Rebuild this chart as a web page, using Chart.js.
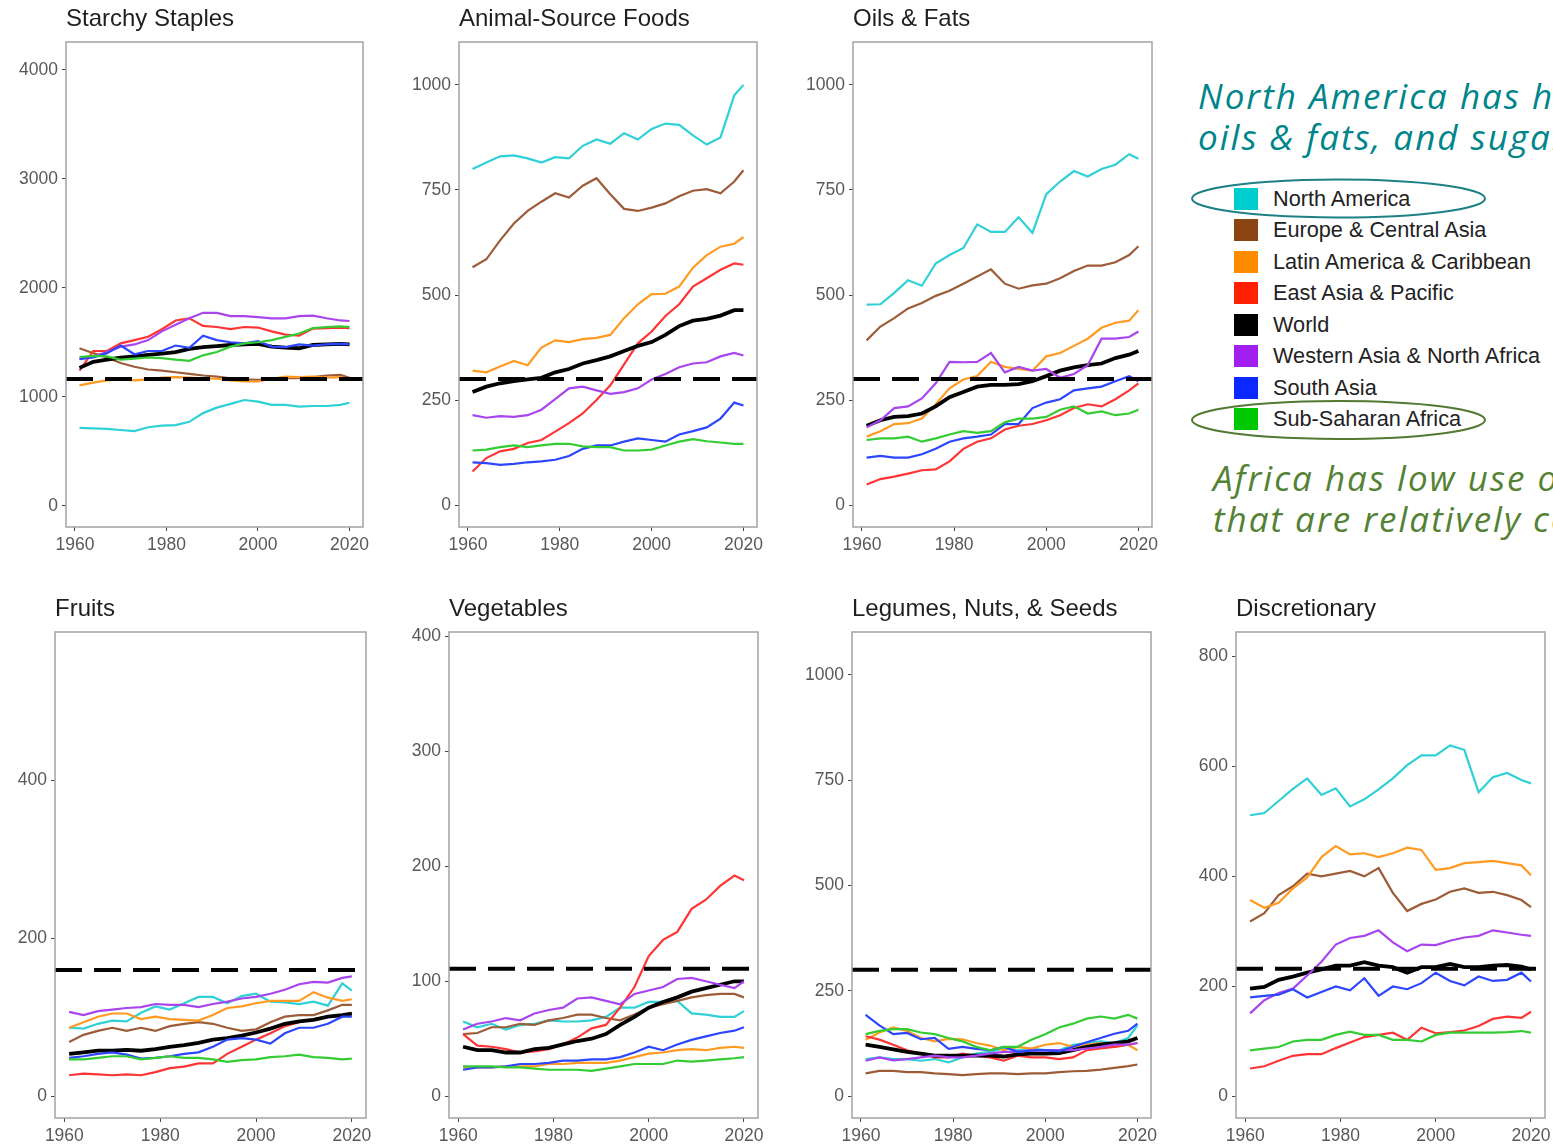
<!DOCTYPE html>
<html>
<head>
<meta charset="utf-8">
<title>Food group supply by region, 1961-2020</title>
<script src="https://cdn.jsdelivr.net/npm/chart.js@4/dist/chart.umd.min.js"></script>
<style>
  html, body { margin: 0; padding: 0; background: #fff; }
  body { width: 1553px; height: 1145px; position: relative; overflow: hidden;
         font-family: "Liberation Sans", Arial, sans-serif; }
  .panel { position: absolute; }
  .note { position: absolute; font-family: "Open Sans", sans-serif; font-style: italic;
          font-size: 35px; letter-spacing: 2px; line-height: 41px; white-space: nowrap; }
  .teal { color: #00858a; left: 1198px; top: 75px; }
  .green { color: #548235; left: 1213px; top: 457px; }
  .legend-row { position: absolute; left: 1234px; height: 22px; font-size: 21.7px;
                color: #222; white-space: nowrap; }
  .legend-row .sw { position: absolute; left: 0; top: 0; width: 24px; height: 22px; }
  .legend-row .lbl { position: absolute; left: 39px; top: -2px; line-height: 26px; }
  svg.marks { position: absolute; left: 0; top: 0; pointer-events: none; }
</style>
</head>
<body>

<div class="note teal">North America has high<br>oils &amp; fats, and sugar</div>
<div class="note green">Africa has low use of<br>that are relatively costly</div>
<div id="legend"></div>
<svg class="marks" width="1553" height="1145">
  <ellipse cx="1338.5" cy="198.5" rx="146.5" ry="19" fill="none" stroke="#1d8084" stroke-width="2"/>
  <ellipse cx="1338.5" cy="420" rx="146.5" ry="19" fill="none" stroke="#527a32" stroke-width="2"/>
</svg>

<script>
// ─── Data ─────────────────────────────────────────────────────
const years = [1961, 1964, 1967, 1970, 1973, 1976, 1979, 1982, 1985, 1988, 1991,
               1994, 1997, 2000, 2003, 2006, 2009, 2012, 2015, 2018, 2020];

const regions = ['North America', 'Europe & Central Asia', 'Latin America & Caribbean',
                 'East Asia & Pacific', 'World', 'Western Asia & North Africa',
                 'South Asia', 'Sub-Saharan Africa'];
const swatchColors = ['#00CDCD', '#8B4513', '#FF8C00', '#FF2000', '#000000', '#A020F0', '#0A28FF', '#00C800'];
const lineColors = ['#2fd0d6', '#9c5c38', '#ff9a22', '#ff3535', '#000000', '#a845ef', '#2c45ff', '#33cc33'];

const panelTitles = ['Starchy Staples', 'Animal-Source Foods', 'Oils & Fats', 'Fruits',
                     'Vegetables', 'Legumes, Nuts, & Seeds', 'Discretionary'];

// dashed reference level per panel
const refLevels = [1162, 300, 300, 160, 111, 300, 232];

const xTicks = [1960, 1980, 2000, 2020];
const yTicks = [
  [0, 1000, 2000, 3000, 4000],
  [0, 250, 500, 750, 1000],
  [0, 250, 500, 750, 1000],
  [0, 200, 400],
  [0, 100, 200, 300, 400],
  [0, 250, 500, 750, 1000],
  [0, 200, 400, 600, 800]
];

// rows follow the regions order
const starchy = [
  [715, 710, 705, 695, 685, 720, 735, 740, 770, 850, 900, 935, 970, 955, 925, 925, 910, 915, 915, 925, 945],
  [1445, 1400, 1360, 1310, 1275, 1250, 1240, 1225, 1210, 1195, 1185, 1170, 1160, 1155, 1165, 1170, 1170, 1180, 1195, 1200, 1175],
  [1105, 1130, 1150, 1160, 1150, 1160, 1175, 1180, 1175, 1170, 1165, 1150, 1140, 1140, 1165, 1185, 1180, 1185, 1175, 1180, 1165],
  [1240, 1420, 1420, 1490, 1520, 1550, 1620, 1700, 1720, 1650, 1640, 1620, 1640, 1635, 1600, 1570, 1560, 1625, 1630, 1635, 1630],
  [1265, 1320, 1340, 1360, 1370, 1385, 1395, 1410, 1440, 1455, 1465, 1475, 1480, 1485, 1460, 1450, 1445, 1475, 1480, 1485, 1480],
  [1350, 1370, 1410, 1460, 1480, 1520, 1600, 1660, 1720, 1770, 1770, 1740, 1740, 1730, 1720, 1720, 1740, 1745, 1720, 1700, 1695],
  [1345, 1360, 1400, 1470, 1390, 1420, 1420, 1470, 1450, 1560, 1520, 1500, 1490, 1510, 1460, 1455, 1480, 1470, 1480, 1485, 1480],
  [1365, 1375, 1370, 1340, 1350, 1360, 1355, 1340, 1330, 1380, 1410, 1460, 1490, 1500, 1520, 1550, 1580, 1630, 1640, 1645, 1640]
];

const animal = [
  [800, 815, 830, 832, 825, 815, 828, 825, 855, 870, 860, 885, 870, 895, 908, 905, 880, 858, 875, 975, 1000],
  [566, 585, 630, 670, 700, 722, 742, 732, 760, 778, 740, 705, 700, 708, 718, 735, 748, 752, 742, 770, 797],
  [320, 316, 330, 343, 333, 375, 392, 388, 395, 398, 405, 445, 478, 502, 503, 520, 565, 595, 615, 622, 638],
  [80, 112, 128, 134, 148, 155, 175, 195, 218, 250, 285, 335, 385, 413, 450, 478, 520, 540, 560, 575, 572],
  [269, 282, 290, 295, 299, 303, 316, 324, 337, 345, 354, 367, 379, 388, 405, 426, 439, 443, 451, 464, 464],
  [214, 208, 212, 210, 214, 227, 252, 278, 282, 273, 265, 269, 278, 299, 312, 328, 337, 340, 354, 362, 356],
  [102, 100, 96, 98, 102, 104, 108, 117, 134, 142, 142, 151, 159, 155, 151, 168, 176, 185, 206, 244, 237],
  [130, 132, 138, 142, 138, 142, 146, 146, 140, 138, 138, 130, 130, 132, 142, 151, 157, 152, 149, 146, 146]
];

const oils = [
  [477, 478, 505, 535, 522, 575, 595, 612, 668, 650, 650, 685, 648, 740, 770, 795, 782, 800, 810, 835, 824],
  [392, 425, 445, 468, 481, 498, 510, 527, 544, 561, 527, 515, 523, 527, 540, 557, 570, 570, 578, 595, 616],
  [163, 176, 193, 195, 206, 240, 278, 299, 307, 341, 329, 324, 320, 354, 362, 379, 396, 422, 434, 439, 464],
  [49, 62, 68, 75, 83, 85, 104, 134, 151, 159, 180, 189, 193, 202, 214, 231, 240, 235, 252, 273, 290],
  [189, 202, 210, 212, 218, 235, 257, 269, 282, 286, 286, 288, 295, 307, 320, 328, 333, 337, 350, 358, 367],
  [185, 202, 231, 235, 254, 290, 341, 340, 341, 362, 316, 329, 320, 324, 303, 312, 333, 396, 396, 400, 413],
  [113, 117, 113, 113, 121, 134, 151, 159, 163, 168, 193, 193, 231, 244, 252, 273, 278, 282, 295, 307, 295],
  [155, 159, 159, 163, 151, 159, 168, 176, 172, 176, 197, 206, 206, 210, 227, 235, 218, 223, 214, 218, 227]
];

const fruits = [
  [87, 86, 92, 96, 95, 106, 114, 110, 118, 126, 126, 118, 127, 130, 120, 119, 117, 120, 115, 143, 134],
  [69, 78, 83, 87, 83, 87, 83, 89, 92, 94, 92, 87, 83, 85, 94, 101, 103, 103, 109, 116, 116],
  [87, 94, 101, 105, 105, 98, 101, 98, 97, 96, 103, 112, 114, 118, 121, 121, 121, 132, 125, 121, 123],
  [27, 29, 28, 27, 28, 27, 31, 36, 38, 42, 42, 54, 63, 72, 80, 89, 94, 98, 101, 101, 105],
  [54, 56, 58, 58, 59, 58, 60, 63, 65, 68, 72, 74, 77, 81, 86, 92, 95, 97, 101, 103, 105],
  [107, 103, 108, 110, 112, 113, 117, 116, 116, 113, 117, 120, 124, 126, 130, 135, 142, 145, 144, 150, 152],
  [49, 51, 54, 56, 53, 48, 49, 51, 54, 56, 63, 72, 74, 72, 67, 80, 87, 87, 92, 101, 101],
  [47, 47, 49, 51, 51, 47, 49, 51, 49, 49, 47, 44, 46, 47, 50, 51, 53, 50, 49, 47, 48]
];

const vegetables = [
  [65, 60, 63, 58, 62, 63, 66, 65, 65, 66, 69, 77, 77, 82, 82, 83, 72, 71, 69, 69, 74],
  [54, 55, 60, 60, 63, 62, 66, 68, 71, 71, 68, 66, 71, 77, 80, 83, 86, 88, 89, 89, 86],
  [25, 25, 25, 26, 26, 26, 28, 28, 29, 29, 29, 31, 34, 37, 38, 40, 41, 40, 42, 43, 42],
  [54, 44, 43, 41, 38, 39, 41, 45, 51, 59, 62, 77, 95, 122, 136, 143, 163, 171, 183, 192, 188],
  [43, 40, 40, 38, 38, 41, 42, 45, 48, 50, 54, 62, 69, 77, 82, 86, 91, 94, 97, 100, 100],
  [58, 63, 65, 68, 66, 72, 75, 77, 85, 86, 83, 80, 89, 92, 95, 102, 103, 100, 97, 94, 100],
  [23, 25, 25, 26, 28, 28, 29, 31, 31, 32, 32, 34, 38, 43, 40, 45, 49, 52, 55, 57, 60],
  [26, 26, 26, 25, 25, 24, 23, 23, 23, 22, 24, 26, 28, 28, 28, 31, 30, 31, 32, 33, 34]
];

const legumes = [
  [88, 92, 88, 88, 84, 88, 80, 92, 101, 105, 113, 109, 113, 109, 109, 122, 126, 130, 126, 138, 168],
  [54, 60, 60, 57, 57, 54, 52, 50, 52, 54, 54, 52, 54, 54, 57, 59, 60, 63, 67, 71, 75],
  [134, 151, 163, 155, 138, 130, 136, 135, 126, 120, 109, 117, 113, 122, 126, 117, 122, 126, 117, 122, 109],
  [142, 134, 122, 109, 101, 92, 92, 101, 96, 92, 84, 96, 92, 92, 88, 92, 109, 113, 117, 122, 126],
  [122, 117, 111, 105, 101, 96, 96, 96, 96, 96, 94, 99, 101, 101, 102, 109, 117, 122, 126, 130, 138],
  [84, 92, 85, 88, 92, 96, 92, 92, 96, 101, 105, 105, 109, 109, 109, 109, 113, 117, 122, 122, 126],
  [193, 168, 147, 150, 135, 138, 112, 117, 112, 109, 117, 105, 108, 109, 106, 117, 128, 138, 148, 155, 172],
  [147, 155, 159, 159, 151, 147, 138, 130, 117, 109, 117, 117, 134, 147, 163, 172, 184, 189, 184, 193, 184]
];

const discretionary = [
  [511, 515, 537, 559, 578, 548, 560, 527, 540, 558, 578, 602, 620, 620, 638, 630, 553, 580, 588, 575, 569],
  [318, 333, 366, 382, 405, 400, 405, 410, 400, 415, 370, 337, 350, 358, 372, 378, 370, 372, 366, 357, 344],
  [357, 343, 352, 378, 398, 435, 455, 440, 442, 435, 442, 452, 448, 412, 415, 424, 426, 428, 424, 420, 402],
  [51, 55, 65, 74, 77, 77, 88, 98, 108, 112, 116, 103, 125, 115, 117, 120, 128, 141, 145, 143, 154],
  [196, 199, 212, 218, 225, 231, 238, 238, 244, 238, 235, 225, 235, 235, 241, 235, 235, 238, 239, 236, 231],
  [151, 175, 188, 196, 220, 245, 276, 288, 292, 302, 280, 264, 276, 275, 283, 289, 292, 302, 298, 294, 292],
  [180, 183, 185, 195, 180, 190, 200, 193, 215, 183, 200, 195, 206, 225, 210, 202, 218, 210, 212, 225, 209],
  [84, 87, 90, 100, 103, 103, 112, 118, 112, 112, 103, 103, 100, 112, 116, 116, 116, 116, 117, 119, 116]
];

const panelData = [starchy, animal, oils, fruits, vegetables, legumes, discretionary];

// ─── Layout ───────────────────────────────────────────────────
// plot-area box of every panel: left, top, right, bottom (page px)
const boxes = [
  [66, 42, 363, 527], [459, 42, 757, 527], [853, 42, 1152, 527],
  [55, 632, 366, 1118], [449, 632, 758, 1118], [852, 632, 1151, 1118], [1236, 632, 1545, 1118]
];
const yRanges = [[-195, 4255], [-52, 1102], [-52, 1102], [-27, 587], [-19, 404], [-52, 1102], [-39, 844]];
const X_MIN = 1958.05, X_MAX = 2022.95;
const AXIS_W = 62, TOP_PAD = 44, AXIS_H = 38, RIGHT_PAD = 24;
const FONT = '"Liberation Sans", Arial, sans-serif';

// ─── Panel frame + title ──────────────────────────────────────
const panelFrame = {
  id: 'panelFrame',
  afterDatasetsDraw(chart, args, opts) {
    const { ctx, chartArea: a } = chart;
    ctx.save();
    ctx.strokeStyle = '#a3a3a3';
    ctx.lineWidth = 1.5;
    ctx.strokeRect(a.left, a.top, a.right - a.left, a.bottom - a.top);
    ctx.fillStyle = '#1f1f1f';
    ctx.font = '24px ' + FONT;
    ctx.textBaseline = 'alphabetic';
    ctx.textAlign = 'left';
    ctx.fillText(opts.title, a.left, a.top - 16);
    ctx.restore();
  }
};

function axisTicks(values) {
  return scale => { scale.ticks = values.map(v => ({ value: v })); };
}

function makePanel(i) {
  const [L, T, R, B] = boxes[i];
  const w = AXIS_W + (R - L) + RIGHT_PAD;
  const h = TOP_PAD + (B - T) + AXIS_H;

  const canvas = document.createElement('canvas');
  canvas.className = 'panel';
  canvas.width = w;
  canvas.height = h;
  canvas.style.left = (L - AXIS_W) + 'px';
  canvas.style.top = (T - TOP_PAD) + 'px';
  canvas.style.width = w + 'px';
  canvas.style.height = h + 'px';
  document.body.appendChild(canvas);

  const datasets = panelData[i].map((vals, r) => ({
    label: regions[r],
    data: years.map((yr, k) => ({ x: yr, y: vals[k] })),
    borderColor: lineColors[r],
    borderWidth: regions[r] === 'World' ? 3.8 : 2.2,
    pointRadius: 0,
    tension: 0,
    fill: false,
    order: regions.length - r
  }));
  datasets.push({
    label: 'reference',
    data: [{ x: X_MIN, y: refLevels[i] }, { x: X_MAX, y: refLevels[i] }],
    borderColor: '#000',
    borderWidth: 4,
    borderDash: [27, 12],
    borderCapStyle: 'butt',
    pointRadius: 0,
    fill: false,
    order: 0
  });

  const tickFont = { family: FONT, size: 17.5 };
  const tickGrid = { drawOnChartArea: false, drawTicks: true, tickLength: 4, color: '#444', lineWidth: 1 };

  new Chart(canvas, {
    type: 'line',
    data: { datasets },
    options: {
      responsive: false,
      animation: false,
      devicePixelRatio: 1,
      layout: { padding: { left: 0, top: TOP_PAD, right: RIGHT_PAD, bottom: 0 } },
      plugins: {
        legend: { display: false },
        tooltip: { enabled: false },
        panelFrame: { title: panelTitles[i] }
      },
      scales: {
        x: {
          type: 'linear',
          min: X_MIN,
          max: X_MAX,
          afterBuildTicks: axisTicks(xTicks),
          afterFit: s => { s.height = AXIS_H; },
          grid: tickGrid,
          border: { display: false },
          ticks: { color: '#595959', font: tickFont, padding: 4, maxRotation: 0, autoSkip: false,
                   callback: v => String(v) }
        },
        y: {
          min: yRanges[i][0],
          max: yRanges[i][1],
          afterBuildTicks: axisTicks(yTicks[i]),
          afterFit: s => { s.width = AXIS_W; },
          grid: tickGrid,
          border: { display: false },
          ticks: { color: '#595959', font: tickFont, padding: 4, autoSkip: false,
                   callback: v => String(v) }
        }
      }
    },
    plugins: [panelFrame]
  });
}

// ─── Legend ───────────────────────────────────────────────────
function buildLegend() {
  const box = document.getElementById('legend');
  regions.forEach((name, i) => {
    const row = document.createElement('div');
    row.className = 'legend-row';
    row.style.top = (188 + i * 31.43) + 'px';
    row.innerHTML = `<span class="sw" style="background:${swatchColors[i]}"></span><span class="lbl">${name.replace('&', '&amp;')}</span>`;
    box.appendChild(row);
  });
}

buildLegend();
panelTitles.forEach((t, i) => makePanel(i));
</script>
</body>
</html>
